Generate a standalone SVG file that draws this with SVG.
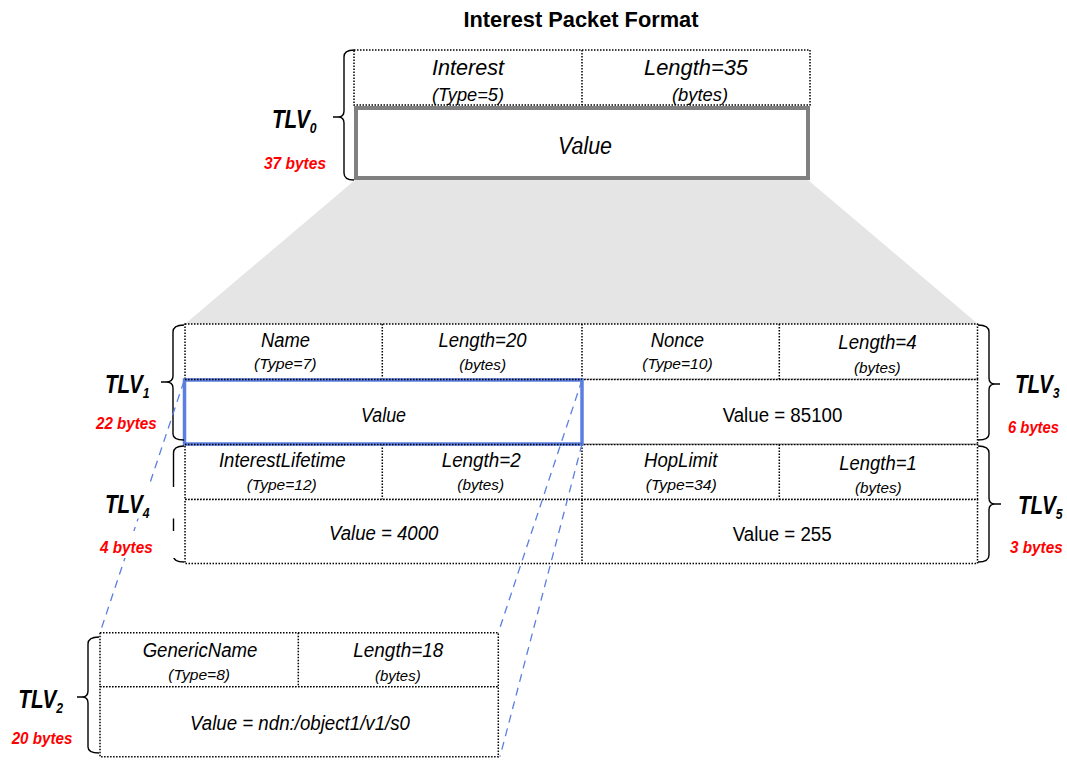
<svg xmlns="http://www.w3.org/2000/svg" width="1067" height="760" viewBox="0 0 1067 760">
<style>
text{font-family:"Liberation Sans",Arial,Helvetica,sans-serif;fill:#000}
.c{text-anchor:middle}
.it{font-style:italic}
.h{font-style:italic;font-size:19.5px;text-anchor:middle}
.s{font-style:italic;font-size:15.5px;text-anchor:middle}
.v{font-size:20.5px;text-anchor:middle}
.dot{fill:#fff;stroke:#000;stroke-width:1.5;stroke-dasharray:1.5 1.5}
.dl{stroke:#000;stroke-width:1.5;stroke-dasharray:1.5 1.5;fill:none}
.br{fill:none;stroke:#000;stroke-width:1.4}
.tlv{font-weight:bold;font-style:italic;font-size:25.5px}
.sub{font-size:15px}
.by{font-weight:bold;font-style:italic;font-size:17px;fill:#ff0000}
.bl{stroke:#5b7fe0;stroke-width:1.3;stroke-dasharray:8 6;fill:none}
</style>
<rect width="1067" height="760" fill="#fff"/>
<text class="c" x="581" y="27" font-size="21.8" font-weight="bold">Interest Packet Format</text>
<polygon points="355,180 808,180 978,324 185,324" fill="#e5e5e5"/>
<g id="tlv0">
<rect class="dot" x="354" y="50" width="456" height="55"/>
<line class="dl" x1="582" y1="50" x2="582" y2="105"/>
<text class="c it" x="468" y="75" font-size="21.5" textLength="72" lengthAdjust="spacingAndGlyphs">Interest</text>
<text class="c it" x="468" y="101" font-size="18" textLength="72" lengthAdjust="spacingAndGlyphs">(Type=5)</text>
<text class="c it" x="696" y="75" font-size="21.5" textLength="104" lengthAdjust="spacingAndGlyphs">Length=35</text>
<text class="c it" x="700" y="101" font-size="18" textLength="56" lengthAdjust="spacingAndGlyphs">(bytes)</text>
<rect x="356" y="108" width="452" height="70" fill="#fff" stroke="#808080" stroke-width="4"/>
<text class="c it" x="585" y="154" font-size="23.5" textLength="54" lengthAdjust="spacingAndGlyphs">Value</text>
<path class="br" d="M354,50 Q344,50 344,57 L344,111 Q344,117 338,117 L333,117 M338,117 Q344,117 344,123 L344,173 Q344,180 354,180"/>
<text class="tlv" transform="translate(272,128) scale(0.81,1)">TLV<tspan class="sub" dy="5">0</tspan></text>
<text class="by" x="264" y="169" textLength="62" lengthAdjust="spacingAndGlyphs">37 bytes</text>
</g>
<g id="tlv-mid">
<rect class="dot" x="185" y="324" width="792.5" height="55.5"/>
<line class="dl" x1="382.3" y1="324" x2="382.3" y2="379.5"/>
<line class="dl" x1="582" y1="324" x2="582" y2="379.5"/>
<line class="dl" x1="779.3" y1="324" x2="779.3" y2="379.5"/>
<rect class="dot" x="185" y="379.5" width="792.5" height="65"/>
<line class="dl" x1="582" y1="379.5" x2="582" y2="444.5"/>
<rect class="dot" x="185" y="444.5" width="792.5" height="55"/>
<line class="dl" x1="382.3" y1="444.5" x2="382.3" y2="499.5"/>
<line class="dl" x1="582" y1="444.5" x2="582" y2="499.5"/>
<line class="dl" x1="779.3" y1="444.5" x2="779.3" y2="499.5"/>
<rect class="dot" x="185" y="499.5" width="792.5" height="64"/>
<line class="dl" x1="582" y1="499.5" x2="582" y2="563.5"/>
</g>
<g id="tlv1">
<text class="h" x="285.5" y="347" textLength="49" lengthAdjust="spacingAndGlyphs">Name</text>
<text class="s" x="285.3" y="369" textLength="62.7" lengthAdjust="spacingAndGlyphs">(Type=7)</text>
<text class="h" x="482.5" y="347" textLength="88" lengthAdjust="spacingAndGlyphs">Length=20</text>
<text class="s" x="482.7" y="370" textLength="46.7" lengthAdjust="spacingAndGlyphs">(bytes)</text>
<rect x="184.5" y="380" width="397.5" height="64" fill="#fff" stroke="#5b7fe0" stroke-width="3.5"/>
<line class="dl" x1="185" y1="379.5" x2="582" y2="379.5"/>
<line class="dl" x1="185" y1="444.5" x2="582" y2="444.5"/>
<text class="v it" x="383.5" y="421.7" textLength="45" lengthAdjust="spacingAndGlyphs">Value</text>
<path class="br" d="M184,325 Q173,325 173,332 L173,376 Q173,382 166,382 L161,382 M166,382 Q173,382 173,388 L173,434 Q173,440 184,440"/>
<text class="tlv" transform="translate(105,393.3) scale(0.81,1)">TLV<tspan class="sub" dy="5">1</tspan></text>
<text class="by" x="96" y="429.3" textLength="60.7" lengthAdjust="spacingAndGlyphs">22 bytes</text>
</g>
<g id="tlv3">
<text class="h" x="677.3" y="347" textLength="53.3" lengthAdjust="spacingAndGlyphs">Nonce</text>
<text class="s" x="677.5" y="369" textLength="70.3" lengthAdjust="spacingAndGlyphs">(Type=10)</text>
<text class="h" x="877.5" y="349.3" textLength="78.3" lengthAdjust="spacingAndGlyphs">Length=4</text>
<text class="s" x="877.3" y="372.5" textLength="46.7" lengthAdjust="spacingAndGlyphs">(bytes)</text>
<text class="v" x="782.5" y="421.7" textLength="119.7" lengthAdjust="spacingAndGlyphs">Value = 85100</text>
<path class="br" d="M978,325 Q989,325 989,332 L989,378 Q989,384 995,384 L1000,384 M995,384 Q989,384 989,390 L989,434 Q989,440 978,440"/>
<text class="tlv" transform="translate(1015,393.3) scale(0.81,1)">TLV<tspan class="sub" dy="5">3</tspan></text>
<text class="by" x="1008" y="432.7" textLength="51" lengthAdjust="spacingAndGlyphs">6 bytes</text>
</g>
<g id="tlv4">
<text class="h" x="282.3" y="466.7" textLength="126.7" lengthAdjust="spacingAndGlyphs">InterestLifetime</text>
<text class="s" x="281.7" y="489.5" textLength="70" lengthAdjust="spacingAndGlyphs">(Type=12)</text>
<text class="h" x="481.2" y="466.7" textLength="79" lengthAdjust="spacingAndGlyphs">Length=2</text>
<text class="s" x="480.7" y="490" textLength="46.7" lengthAdjust="spacingAndGlyphs">(bytes)</text>
<text class="v it" x="383.7" y="540" textLength="109.3" lengthAdjust="spacingAndGlyphs">Value = 4000</text>
<path class="br" d="M184,446 Q173.5,446 173.5,453 L173.5,498 Q173.5,504 167,504 L161,504 M167,504 Q173.5,504 173.5,510 L173.5,556 Q173.5,562 184,562"/>
</g>
<g id="tlv5">
<text class="h" x="680.7" y="466.7" textLength="73.3" lengthAdjust="spacingAndGlyphs">HopLimit</text>
<text class="s" x="681.2" y="489.5" textLength="71" lengthAdjust="spacingAndGlyphs">(Type=34)</text>
<text class="h" x="878" y="470" textLength="77.3" lengthAdjust="spacingAndGlyphs">Length=1</text>
<text class="s" x="878.3" y="492.7" textLength="46.7" lengthAdjust="spacingAndGlyphs">(bytes)</text>
<text class="v" x="782.2" y="541" textLength="99" lengthAdjust="spacingAndGlyphs">Value = 255</text>
<path class="br" d="M978,446 Q989,446 989,453 L989,498 Q989,504 995,504 L1001,504 M995,504 Q989,504 989,510 L989,555 Q989,562 978,562"/>
<text class="tlv" transform="translate(1018,514) scale(0.81,1)">TLV<tspan class="sub" dy="5">5</tspan></text>
<text class="by" x="1010" y="553.3" textLength="52.7" lengthAdjust="spacingAndGlyphs">3 bytes</text>
</g>
<g id="tlv2">
<rect class="dot" x="100" y="632.7" width="398.3" height="54"/>
<line class="dl" x1="298.3" y1="632.7" x2="298.3" y2="686.7"/>
<rect class="dot" x="100" y="686.7" width="398.3" height="70"/>
<text class="h" x="200" y="656.7" textLength="114.7" lengthAdjust="spacingAndGlyphs">GenericName</text>
<text class="s" x="199.2" y="680" textLength="61.7" lengthAdjust="spacingAndGlyphs">(Type=8)</text>
<text class="h" x="398.3" y="656.7" textLength="90" lengthAdjust="spacingAndGlyphs">Length=18</text>
<text class="s" x="397.8" y="680.5" textLength="45.7" lengthAdjust="spacingAndGlyphs">(bytes)</text>
<text class="v it" x="300" y="730" textLength="220" lengthAdjust="spacingAndGlyphs">Value = ndn:/object1/v1/s0</text>
<path class="br" d="M99,637 Q88,637 88,644 L88,691 Q88,697 82,697 L77,697 M82,697 Q88,697 88,703 L88,747 Q88,753 99,753"/>
<text class="tlv" transform="translate(18.3,708.3) scale(0.81,1)">TLV<tspan class="sub" dy="5">2</tspan></text>
<text class="by" x="11.7" y="744.3" textLength="60.7" lengthAdjust="spacingAndGlyphs">20 bytes</text>
</g>
<g id="connectors">
<line class="bl" x1="184" y1="381" x2="100" y2="632.7"/>
<line class="bl" x1="582" y1="380" x2="498.3" y2="632.7"/>
<line class="bl" x1="582" y1="444" x2="500" y2="756.7"/>
</g>
<g id="tlv4-labels">
<rect x="95" y="487" width="82" height="31.5" fill="#fff"/>
<rect x="95" y="531" width="82" height="27" fill="#fff"/>
<text class="tlv" transform="translate(105,513.3) scale(0.81,1)">TLV<tspan class="sub" dy="5">4</tspan></text>
<text class="by" x="100" y="553.3" textLength="52.7" lengthAdjust="spacingAndGlyphs">4 bytes</text>
</g>
</svg>
